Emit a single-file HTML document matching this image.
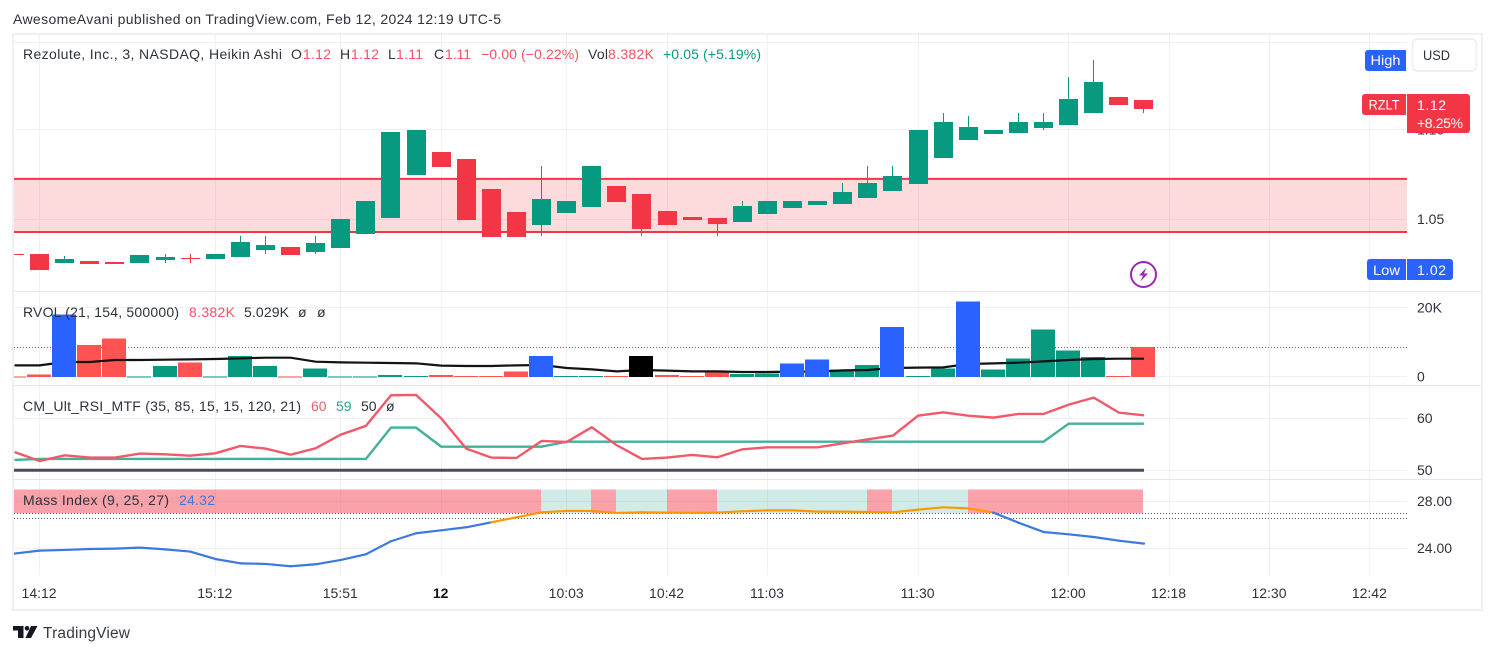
<!DOCTYPE html>
<html lang="en">
<head>
<meta charset="utf-8">
<title>RZLT chart</title>
<style>
html,body{margin:0;padding:0;background:#fff;width:1495px;height:654px;overflow:hidden}
svg{display:block}
text{font-family:"Liberation Sans",sans-serif;font-size:14px;fill:#2e323c}
.r{fill:#f7525f}.g{fill:#089981}.w{fill:#fff}
</style>
</head>
<body>
<svg id="chart" xmlns="http://www.w3.org/2000/svg" width="1495" height="654" viewBox="0 0 1495 654">
  <defs>
    <clipPath id="plot-clip"><rect x="14" y="35" width="1393" height="540"/></clipPath>
  </defs>
  <text x="13" y="24" textLength="488" lengthAdjust="spacing">AwesomeAvani published on TradingView.com, Feb 12, 2024 12:19 UTC-5</text>
  <rect x="13" y="34" width="1469" height="576" fill="#fff" stroke="#eff0f6" stroke-width="2"/>
  <g id="grid" shape-rendering="crispEdges"></g>
  <g id="panes" shape-rendering="crispEdges"></g>
  <g clip-path="url(#plot-clip)">
    <g id="price-pane"></g>
    <g id="rvol-pane"></g>
    <g id="rsi-pane"></g>
    <g id="mass-pane"></g>
  </g>
  <g id="axis-labels"></g>

  <g>
    <text x="23" y="59" textLength="259" lengthAdjust="spacing">Rezolute, Inc., 3, NASDAQ, Heikin Ashi</text>
    <text x="291" y="59">O</text>
    <text class="r" x="303" y="59" textLength="28">1.12</text>
    <text x="340" y="59">H</text>
    <text class="r" x="351" y="59" textLength="28">1.12</text>
    <text x="388" y="59">L</text>
    <text class="r" x="396" y="59" textLength="27">1.11</text>
    <text x="434" y="59">C</text>
    <text class="r" x="445" y="59" textLength="26">1.11</text>
    <text class="r" x="481" y="59" textLength="98" lengthAdjust="spacing">−0.00 (−0.22%)</text>
    <text x="588" y="59" textLength="20">Vol</text>
    <text class="r" x="608" y="59" textLength="46">8.382K</text>
    <text class="g" x="663" y="59" textLength="98" lengthAdjust="spacing">+0.05 (+5.19%)</text>
  </g>
  <g>
    <text x="23" y="317" textLength="156" lengthAdjust="spacing">RVOL (21, 154, 500000)</text>
    <text class="r" x="189" y="317" textLength="46">8.382K</text>
    <text x="244" y="317" textLength="45" fill="#131722">5.029K</text>
    <text x="298" y="317">ø</text>
    <text x="317" y="317">ø</text>
  </g>
  <g>
    <text x="23" y="411" textLength="278" lengthAdjust="spacing">CM_Ult_RSI_MTF (35, 85, 15, 15, 120, 21)</text>
    <text x="311" y="411" style="fill:#f0596a">60</text>
    <text x="336" y="411" style="fill:#2fa38c">59</text>
    <text x="361" y="411">50</text>
    <text x="386" y="411">ø</text>
  </g>
  <g>
    <text x="23" y="505" textLength="146" lengthAdjust="spacing">Mass Index (9, 25, 27)</text>
    <text x="179" y="505" textLength="36" style="fill:#3b78e0">24.32</text>
  </g>

  <g>
    <path d="M1368 50H1406V71H1368a3 3 0 0 1-3-3V53a3 3 0 0 1 3-3z" fill="#2962ff"/>
    <text class="w" x="1370.500" y="65" style="fill:#fff" textLength="30" lengthAdjust="spacingAndGlyphs">High</text>
  </g>
  <g>
    <rect x="1412.500" y="39" width="64" height="32" rx="5" fill="#fff" stroke="#eff0f6" stroke-width="2"/>
    <text x="1423" y="60" textLength="27" lengthAdjust="spacingAndGlyphs">USD</text>
  </g>
  <g>
    <path d="M1365 94H1406V115H1365a3 3 0 0 1-3-3V97a3 3 0 0 1 3-3z" fill="#f23645"/>
    <text x="1368.500" y="109.500" style="fill:#fff" textLength="31" lengthAdjust="spacingAndGlyphs">RZLT</text>
    <path d="M1407 94H1467a3 3 0 0 1 3 3V130a3 3 0 0 1-3 3H1407z" fill="#f23645"/>
    <text x="1417" y="110" style="fill:#fff" textLength="29">1.12</text>
    <text x="1417" y="128" style="fill:#fff" textLength="46">+8.25%</text>
  </g>
  <g>
    <path d="M1370 259H1406V280H1370a3 3 0 0 1-3-3V262a3 3 0 0 1 3-3z" fill="#2962ff"/>
    <text x="1373" y="275" style="fill:#fff" textLength="27" lengthAdjust="spacingAndGlyphs">Low</text>
    <path d="M1407 259H1450a3 3 0 0 1 3 3V277a3 3 0 0 1-3 3H1407z" fill="#2962ff"/>
    <text x="1417" y="275" style="fill:#fff" textLength="29">1.02</text>
  </g>
  <g>
    <circle cx="1143.500" cy="274.500" r="12.500" fill="#fff" stroke="#9c27b0" stroke-width="2"/>
    <path d="M1146.500 267.500L1139 275.500H1143L1140.500 281.500L1148 273.500H1144z" fill="#9c27b0"/>
  </g>
  <g>
    <path d="M13 626H23.500V638H18V630.500H13zM31 626H37.500L31 638H25.500z" fill="#131722"/>
    <circle cx="27" cy="628.300" r="2.300" fill="#131722"/>
    <text x="43" y="638" textLength="87" lengthAdjust="spacing" style="font-size:15.500px;fill:#363a45">TradingView</text>
  </g>
</svg>
<script>
// ---- Candles (Heikin Ashi) ----
const opens  = [1.0306,1.0306,1.0255,1.0266,1.0261,1.0255,1.0272,1.0283,1.0278,1.0289,1.0328,1.0345,1.0317,1.0339,1.0418,1.0507,1.0748,1.0877,1.0838,1.0670,1.0541,1.0468,1.0535,1.0569,1.0686,1.0642,1.0546,1.0513,1.0507,1.0485,1.0530,1.0563,1.0580,1.0586,1.0619,1.0658,1.0698,1.0843,1.0944,1.0978,1.0983,1.1011,1.1028,1.1095,1.1185,1.1168];
const highs  = [1.0306,1.0306,1.0294,1.0266,1.0261,1.0300,1.0306,1.0306,1.0306,1.0406,1.0406,1.0345,1.0406,1.0502,1.0602,1.0989,1.1000,1.0877,1.0838,1.0670,1.0541,1.0798,1.0602,1.0798,1.0686,1.0642,1.0546,1.0513,1.0507,1.0602,1.0602,1.0602,1.0602,1.0703,1.0798,1.0798,1.1000,1.1095,1.1079,1.1000,1.1095,1.1095,1.1297,1.1392,1.1185,1.1168];
const lows   = [1.0300,1.0216,1.0255,1.0250,1.0250,1.0255,1.0255,1.0255,1.0278,1.0289,1.0306,1.0300,1.0306,1.0339,1.0418,1.0507,1.0748,1.0793,1.0496,1.0401,1.0401,1.0406,1.0535,1.0569,1.0597,1.0406,1.0468,1.0496,1.0406,1.0485,1.0530,1.0563,1.0580,1.0586,1.0619,1.0658,1.0698,1.0843,1.0944,1.0978,1.0983,1.1000,1.1028,1.1095,1.1140,1.1095];
const closes = [1.0300,1.0216,1.0278,1.0250,1.0250,1.0300,1.0289,1.0278,1.0306,1.0373,1.0356,1.0300,1.0367,1.0502,1.0602,1.0989,1.1000,1.0793,1.0496,1.0401,1.0401,1.0614,1.0602,1.0798,1.0597,1.0446,1.0468,1.0496,1.0474,1.0574,1.0602,1.0602,1.0602,1.0653,1.0703,1.0742,1.1000,1.1045,1.1017,1.1000,1.1045,1.1045,1.1174,1.1269,1.1140,1.1118];
const zoneBounds = [1.0726,1.0429];
const priceGridValues = [1.149,1.10,1.05];
const priceTickValues = [1.10,1.05];
const priceTickLabels = ['1.10','1.05'];

// ---- RVOL (thousands) ----
const rvolValues = [0.15,0.75,18.1,9.2,11.2,0.15,3.1,4.2,0.15,6.0,3.1,0.15,2.5,0.15,0.15,0.5,0.2,0.5,0.2,0.2,1.6,6.0,0.2,0.2,0.2,6.0,0.5,0.2,1.3,0.8,1.0,3.9,5.1,2.2,3.4,14.4,0.2,2.5,21.9,2.2,5.4,13.8,7.7,5.7,0.2,8.6];
const rvolKinds  = ['r','r','b','r','r','g','g','r','g','g','g','r','g','g','g','g','g','r','r','r','r','b','g','g','r','k','r','r','r','g','g','b','b','g','g','b','g','g','b','g','g','g','g','g','r','r'];
const rvolAverage = [3.35,3.35,4.32,4.32,4.9,4.9,4.99,5.09,5.19,5.38,5.57,5.57,4.41,4.22,4.12,4.03,3.93,3.26,3.16,3.16,3.35,3.45,2.58,2.19,1.61,2.0,1.81,1.61,1.61,1.42,1.42,1.52,1.52,1.9,2.0,2.58,2.68,2.77,3.74,3.93,4.12,4.51,4.9,5.19,5.28,5.28];
const rvolLastLevel = [8.49];
const rvolGridValues = [20,0];
const rvolTickLabels = ['20K','0'];

// ---- RSI ----
const rsiValues = [53.53,51.79,52.88,52.44,52.44,53.21,53.08,52.82,53.27,54.68,54.17,53.01,54.23,56.86,58.53,64.42,64.49,60,54.17,52.44,52.37,55.64,55.45,58.27,54.81,52.18,52.44,52.95,52.5,54.04,54.42,54.42,54.42,55.19,55.96,56.67,60.51,61.15,60.51,60.13,60.83,60.83,62.63,63.97,61.09,60.58];
const rsiMtfValues = [51.99,52.18,52.18,52.18,52.18,52.18,52.18,52.18,52.18,52.18,52.18,52.18,52.18,52.18,52.18,58.21,58.21,54.55,54.55,54.55,54.55,54.55,55.51,55.51,55.51,55.51,55.51,55.51,55.51,55.51,55.51,55.51,55.51,55.51,55.51,55.51,55.51,55.51,55.51,55.51,55.51,55.51,58.97,58.97,58.97,58.97];
const rsiMidLevel = [50];
const rsiGridValues = [60,50];
const rsiTickLabels = ['60','50'];

// ---- Mass Index ----
const massValues = [23.55,23.80,23.86,23.94,23.97,24.06,23.91,23.72,23.09,22.72,22.67,22.47,22.64,23.01,23.49,24.6,25.28,25.53,25.79,26.21,26.64,27.06,27.18,27.18,27.01,27.06,27.04,27.01,27.04,27.15,27.23,27.23,27.12,27.12,27.09,27.06,27.29,27.49,27.40,27.04,26.18,25.39,25.19,24.96,24.65,24.4];
const massSegmentColors = ['b','b','b','b','b','b','b','b','b','b','b','b','b','b','b','b','b','b','b','o','o','o','o','o','o','o','o','o','o','o','o','o','o','o','o','o','o','o','o','b','b','b','b','b','b'];
const massBandKinds = ['r','r','r','r','r','r','r','r','r','r','r','r','r','r','r','r','r','r','r','r','r','g','g','r','g','g','r','r','g','g','g','g','g','g','r','g','g','g','r','r','r','r','r','r','r'];
const massLevels = [27,26.5];
const massGridValues = [28,24];
const massTickLabels = ['28.00','24.00'];

// ---- Time axis ----
const timeBarIndexes = [1,8,13,17,22,26,30,36,42,46,50,54];
const timeLabels = ['14:12','15:12','15:51','12','10:03','10:42','11:03','11:30','12:00','12:18','12:30','12:42'];
const timeLabelBold = ['12'];

// ---- Axis functions ----
const xAt = i => 14.48 + 25.1 * i;
const yPrice = p => 219.3 - (p - 1.05) * 1786;
const yRvol = v => 376.9 - v * 3.45;
const yRsi = v => 418.3 + (60 - v) * 5.2;
const yMass = v => 501.3 + (28 - v) * 11.75;
const crisp = v => Math.floor(v) + 0.5;
const PLOT_LEFT = 14, PLOT_RIGHT = 1407;
const NS = 'http://www.w3.org/2000/svg';
function mk(tag, parent, attrs) {
  const el = document.createElementNS(NS, tag);
  for (const k in attrs) el.setAttribute(k, attrs[k]);
  parent.appendChild(el);
  return el;
}
const gridG = document.getElementById('grid');
const panesG = document.getElementById('panes');
const priceG = document.getElementById('price-pane');
const rvolG = document.getElementById('rvol-pane');
const rsiG = document.getElementById('rsi-pane');
const massG = document.getElementById('mass-pane');
const axisG = document.getElementById('axis-labels');

// grid
const GRID = '#f0f1f6';
timeBarIndexes.forEach(i => {
  const x = crisp(xAt(i));
  const l = mk('line', gridG, {x1:x, x2:x, y1:35, y2:575, stroke:GRID});
  
  
});
const hGridYs = priceGridValues.map(yPrice).concat(rvolGridValues.map(yRvol), rsiGridValues.map(yRsi), massGridValues.map(yMass));
hGridYs.forEach(y => {
  const l = mk('line', gridG, {x1:PLOT_LEFT, x2:PLOT_RIGHT, y1:crisp(y), y2:crisp(y), stroke:GRID});
  
  
});
[291, 385, 479].forEach(y => {
  const l = mk('line', panesG, {x1:14, x2:1481, y1:y + 0.5, y2:y + 0.5, stroke:'#e4e4ee'});
  
  
});

// price pane: supply zone
const zoneTop = yPrice(zoneBounds[0]), zoneBottom = yPrice(zoneBounds[1]);
const zone = mk('rect', priceG, {x:PLOT_LEFT, y:zoneTop, width:PLOT_RIGHT - PLOT_LEFT, height:zoneBottom - zoneTop, fill:'rgba(242,54,69,.18)'});


[zoneTop, zoneBottom].forEach(y => {
  const l = mk('line', priceG, {x1:PLOT_LEFT, x2:PLOT_RIGHT, y1:y, y2:y, stroke:'#f23645', 'stroke-width':2});
  
  
});

// price pane: candles
closes.forEach((c, i) => {
  const o = opens[i];
  const col = c >= o ? '#089981' : '#f23645';
  const x = xAt(i);
  const top = Math.round(yPrice(Math.max(o, c)));
  const bot = Math.round(yPrice(Math.min(o, c)));
  const wick = mk('line', priceG, {x1:crisp(x), x2:crisp(x), y1:Math.round(yPrice(highs[i])), y2:Math.round(yPrice(lows[i])), stroke:col, 'shape-rendering':'crispEdges'});
  
  
  const body = mk('rect', priceG, {x:Math.round(x - 9.5), y:top, width:19, height:Math.max(1, bot - top), fill:col, 'shape-rendering':'crispEdges'});
  
  
});

// RVOL pane
const rvolColors = {r:'#ff5252', g:'#089981', b:'#2962ff', k:'#000000'};
function drawRvolBar(v, i) {
  const x = Math.floor(xAt(i) - 12);
  const top = yRvol(v);
  const bar = mk('rect', rvolG, {x:x, y:top, width:24, height:Math.max(1, 377 - top), fill:rvolColors[rvolKinds[i]], 'shape-rendering':'crispEdges'});
  
  
}
rvolLastLevel.forEach(v => {
  const l = mk('line', rvolG, {x1:PLOT_LEFT, x2:PLOT_RIGHT, y1:crisp(yRvol(v)), y2:crisp(yRvol(v)), stroke:'#f23645', 'stroke-dasharray':'1 2', 'shape-rendering':'crispEdges'});
  
  
});
rvolValues.forEach((v, i) => { if (rvolKinds[i] === 'r' || rvolKinds[i] === 'g') drawRvolBar(v, i); });
const rvolLine = mk('polyline', rvolG, {points:rvolAverage.map((v, i) => xAt(i) + ',' + yRvol(v)).join(' '), fill:'none', stroke:'#131313', 'stroke-width':2.2});


rvolValues.forEach((v, i) => { if (rvolKinds[i] === 'b' || rvolKinds[i] === 'k') drawRvolBar(v, i); });

// RSI pane
const midLine = mk('line', rsiG, {x1:PLOT_LEFT, x2:xAt(45), y1:yRsi(rsiMidLevel[0]), y2:yRsi(rsiMidLevel[0]), stroke:'#4a4c58', 'stroke-width':3});


const rsiMtfLine = mk('polyline', rsiG, {points:rsiMtfValues.map((v, i) => xAt(i) + ',' + yRsi(v)).join(' '), fill:'none', stroke:'#44b09b', 'stroke-width':2.4});


const rsiLine = mk('polyline', rsiG, {points:rsiValues.map((v, i) => xAt(i) + ',' + yRsi(v)).join(' '), fill:'none', stroke:'#f0596a', 'stroke-width':2.4});



// Mass Index pane
massBandKinds.forEach((k, i) => {
  const x0 = Math.floor(xAt(i)), x1 = Math.floor(xAt(i + 1));
  const band = mk('rect', massG, {x:x0, y:489.5, width:x1 - x0, height:23.5, fill:k === 'r' ? 'rgba(245,60,75,.48)' : 'rgba(8,153,129,.19)', 'shape-rendering':'crispEdges'});
  
  
});
massLevels.forEach(v => {
  const l = mk('line', massG, {x1:PLOT_LEFT, x2:PLOT_RIGHT, y1:crisp(yMass(v)), y2:crisp(yMass(v)), stroke:'#555', 'stroke-dasharray':'1 2', 'shape-rendering':'crispEdges'});
  
  
});
massSegmentColors.forEach((k, i) => {
  const s = mk('line', massG, {x1:xAt(i), y1:yMass(massValues[i]), x2:xAt(i + 1), y2:yMass(massValues[i + 1]), stroke:k === 'o' ? '#ff9800' : '#3b78e0', 'stroke-width':2.2, 'stroke-linecap':'round'});
  
  
});

// Axis labels
function yTick(label, y, name) {
  const t = mk('text', axisG, {x:1417, y:y + 4.5});
  t.textContent = label;
  
  
}
priceTickValues.forEach((v, i) => yTick(priceTickLabels[i], yPrice(v), 'price-tick'));
rvolGridValues.forEach((v, i) => yTick(rvolTickLabels[i], yRvol(v), 'rvol-tick'));
rsiGridValues.forEach((v, i) => yTick(rsiTickLabels[i], yRsi(v), 'rsi-tick'));
massGridValues.forEach((v, i) => yTick(massTickLabels[i], yMass(v), 'mass-tick'));
timeBarIndexes.forEach((b, i) => {
  const t = mk('text', axisG, {x:xAt(b) - 0.5, y:598, 'text-anchor':'middle'});
  t.textContent = timeLabels[i];
  if (timeLabelBold.includes(timeLabels[i])) t.setAttribute('style', 'font-weight:bold;fill:#131722');
  
  
});
</script>
</body>
</html>
